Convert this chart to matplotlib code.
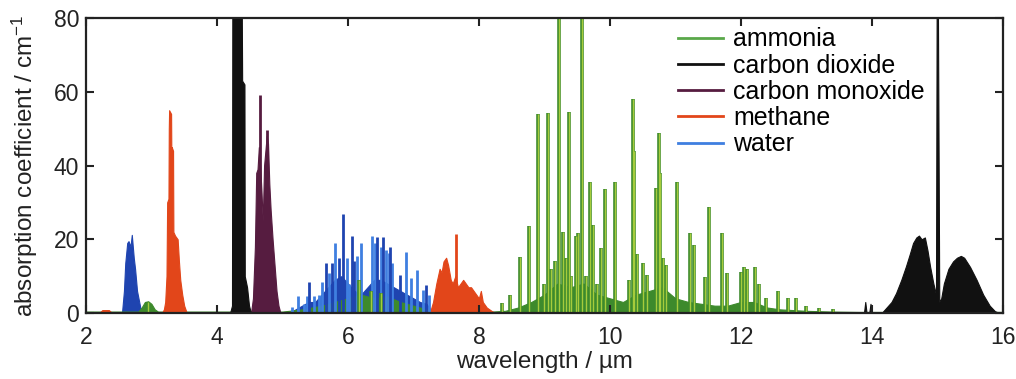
"""Spectre d'absorption IR de quelques gaz (reproduction)."""

import matplotlib
matplotlib.use("Agg")
import matplotlib.pyplot as plt
from matplotlib.lines import Line2D

plt.rcParams["font.family"] = ["Liberation Sans", "DejaVu Sans"]
plt.rcParams["mathtext.default"] = "regular"

# Couleurs
VERT = "#5aa84a"
VERT_CLAIR = "#a6cc3c"
VERT_FONCE = "#3d8a2c"
NOIR = "#111111"
VIOLET = "#561c40"
ORANGE = "#e2461a"
BLEU = "#3f7fe0"
BLEU_FONCE = "#1f44b0"
TEXTE = "#222222"

# --- ammoniac : fond + raies
nh3_fond_wl = [2.0, 2.8, 2.85, 2.9, 2.95, 3.0, 3.05, 3.1, 5.0, 5.3, 5.6, 5.8, 6.0, 6.2,
               6.4, 6.6, 6.8, 7.0, 7.2, 7.4, 8.2, 8.4, 8.6, 8.8, 9.0, 9.2, 9.4, 9.6,
               9.8, 10.0, 10.2, 10.4, 10.6, 10.8, 11.0, 11.2, 11.4, 11.6, 11.8, 12.0,
               12.2, 12.4, 12.6, 12.8, 13.0, 13.4, 13.8, 14.0, 16.0]
nh3_fond_val = [0.4, 0.4, 1.5, 3.0, 3.2, 2.5, 1.0, 0.4, 0.4, 1.0, 2.0, 3.0, 4.0, 5.0,
                4.0, 4.5, 3.0, 2.0, 1.0, 0.5, 0.4, 0.6, 1.5, 3.0, 5.0, 8.0, 7.0, 8.0,
                5.0, 4.0, 3.0, 5.0, 6.0, 7.0, 4.0, 3.0, 2.5, 2.0, 2.0, 3.0, 3.0, 1.5,
                1.0, 0.8, 0.6, 0.4, 0.3, 0.3, 0.3]
nh3_raies_wl = [2.95, 6.17, 6.35, 6.50, 8.35, 8.47, 8.63, 8.77, 8.91, 9.00, 9.05, 9.10,
                9.16, 9.22, 9.29, 9.33, 9.37, 9.41, 9.48, 9.52, 9.57, 9.63, 9.69, 9.74,
                9.80, 9.87, 9.92, 10.08, 10.29, 10.35, 10.37, 10.41, 10.51, 10.56,
                10.71, 10.75, 10.77, 10.81, 10.86, 11.03, 11.22, 11.29, 11.46, 11.51,
                11.71, 11.79, 12.00, 12.05, 12.10, 12.22, 12.28, 12.38, 12.57, 12.72,
                12.84, 13.00, 13.20, 13.40]
nh3_raies_val = [3.0, 9.0, 6.0, 5.5, 2.7, 4.9, 15.3, 23.6, 54.0, 8.0, 54.3, 12.0,
                 14.0, 80.0, 22.0, 15.0, 54.6, 10.0, 21.0, 21.7, 80.0, 10.0, 35.6, 23.9,
                 8.0, 17.6, 33.6, 35.6, 8.9, 58.0, 44.0, 16.0, 13.5, 10.3,
                 34.0, 48.7, 38.0, 15.0, 13.0, 35.6, 21.7, 18.4, 9.9, 28.7,
                 21.8, 10.8, 11.0, 12.5, 12.0, 12.6, 8.0, 4.0, 6.0, 4.0,
                 4.0, 2.0, 1.5, 1.0]

# --- dioxyde de carbone
co2_wl = [4.20, 4.23, 4.235, 4.38, 4.385, 4.42, 4.425, 4.46, 4.49, 4.52,
          13.88, 13.90, 13.92, 13.96, 13.98, 14.00, 14.15, 14.20, 14.30, 14.37,
          14.45, 14.52, 14.58, 14.63, 14.68, 14.72, 14.76, 14.81, 14.85, 14.89,
          14.94, 14.98, 14.99, 15.01, 15.03, 15.06, 15.10, 15.17, 15.24, 15.30,
          15.36, 15.41, 15.50, 15.60, 15.70, 15.80, 15.88, 15.95]
co2_val = [0.0, 2.0, 80.0, 80.0, 63.0, 62.0, 10.0, 7.0, 2.0, 0.0,
           0.0, 3.0, 0.0, 0.0, 2.5, 0.0, 0.0, 1.0, 3.0, 5.4,
           9.0, 12.6, 16.0, 19.0, 20.5, 21.0, 20.0, 20.5, 17.0, 12.6,
           8.0, 5.0, 80.0, 80.0, 3.0, 4.0, 8.0, 12.0, 14.0, 15.0,
           15.5, 15.0, 12.5, 9.0, 5.0, 2.0, 0.5, 0.0]

# --- monoxyde de carbone
co_wl = [4.52, 4.55, 4.58, 4.60, 4.62, 4.64, 4.66, 4.68, 4.70, 4.72,
         4.74, 4.76, 4.78, 4.80, 4.82, 4.85, 4.88, 4.91, 4.94, 4.97]
co_val = [0.0, 4.0, 18.0, 38.0, 39.0, 45.0, 40.0, 33.0, 25.0, 40.0,
          44.0, 48.0, 46.0, 35.0, 28.0, 20.0, 13.0, 6.0, 2.0, 0.0]
co_raies_wl = [4.66, 4.77]
co_raies_val = [59.0, 49.5]

# --- méthane
ch4_wl = [2.20, 2.25, 2.35, 2.40, 3.16, 3.19, 3.21, 3.23, 3.24, 3.26, 3.265, 3.27,
          3.30, 3.305, 3.31, 3.33, 3.335, 3.36, 3.40, 3.42, 3.44, 3.47, 3.50, 3.54,
          7.25, 7.30, 7.35, 7.40, 7.43, 7.46, 7.50, 7.53, 7.57, 7.60, 7.64, 7.68,
          7.72, 7.76, 7.80, 7.84, 7.88, 7.92, 7.96, 8.00, 8.03, 8.06, 8.12, 8.20, 8.26]
ch4_val = [0.0, 0.8, 0.8, 0.0, 0.0, 1.0, 3.0, 10.0, 30.0, 31.0, 50.0, 55.0,
           54.0, 40.0, 45.0, 44.0, 22.0, 21.0, 20.0, 14.0, 9.0, 5.0, 2.0, 0.0,
           0.0, 3.0, 8.0, 12.0, 11.0, 14.0, 15.0, 13.0, 9.0, 8.0, 10.0, 7.0,
           8.0, 9.0, 8.0, 7.0, 7.0, 6.0, 5.0, 4.0, 6.0, 3.0, 1.5, 0.5, 0.0]
ch4_raies_wl = [7.65]
ch4_raies_val = [21.5]

# --- eau
h2o_wl = [2.55, 2.58, 2.60, 2.63, 2.65, 2.68, 2.70, 2.73, 2.75, 2.78, 2.83, 2.86,
          5.10, 5.20, 5.30, 5.40, 5.50, 5.60, 5.70, 5.80, 5.90, 6.00, 6.10, 6.20,
          6.30, 6.40, 6.50, 6.60, 6.70, 6.80, 6.90, 7.00, 7.10, 7.20, 7.30]
h2o_val = [0.0, 6.0, 13.5, 19.0, 19.5, 18.0, 21.2, 15.0, 12.0, 6.0, 1.5, 0.0,
           0.0, 1.0, 2.0, 3.0, 3.0, 5.0, 7.0, 9.0, 10.0, 8.0, 6.0, 5.0,
           7.0, 9.0, 9.0, 8.0, 7.0, 6.0, 5.0, 4.0, 3.0, 2.5, 0.0]
h2o_raies_fonce_wl = [5.41, 5.66, 5.75, 5.87, 5.92, 6.06, 6.09, 6.45, 6.54, 6.64, 6.79, 7.20]
h2o_raies_fonce_val = [8.5, 13.5, 13.7, 14.9, 26.8, 20.9, 14.0, 20.6, 20.5, 17.8, 10.2, 7.6]
h2o_raies_clair_wl = [5.15, 5.24, 5.33, 5.38, 5.48, 5.56, 5.61, 5.71, 5.81, 5.98, 6.02,
                      6.14, 6.20, 6.37, 6.41, 6.50, 6.58, 6.62, 6.68, 6.88, 6.96, 7.05,
                      7.14, 7.24]
h2o_raies_clair_val = [1.7, 4.6, 2.5, 4.6, 4.6, 5.0, 8.5, 10.9, 19.1, 14.9, 8.0,
                       15.6, 19.1, 20.9, 19.0, 18.0, 17.0, 16.4, 13.5, 16.6, 9.6, 11.6,
                       6.2, 5.0]

noms = ["ammonia", "carbon dioxide", "carbon monoxide", "methane", "water"]
couleurs_legende = [VERT, NOIR, VIOLET, ORANGE, BLEU]


fig = plt.figure(figsize=(10.16, 3.79), dpi=100)
ax = fig.add_axes([0.0846, 0.174, 0.9024, 0.7785])

# remplissages
ax.fill_between(h2o_wl, h2o_val, color=BLEU_FONCE, lw=0.8)
ax.fill_between(nh3_fond_wl, nh3_fond_val, color=VERT_FONCE, lw=0.8)
ax.fill_between(ch4_wl, ch4_val, color=ORANGE, lw=0.8)
ax.fill_between(co_wl, co_val, color=VIOLET, lw=0.8)
ax.fill_between(co2_wl, co2_val, color=NOIR, lw=0.8)

# raies
ax.vlines(h2o_raies_clair_wl, 0, h2o_raies_clair_val, colors=BLEU, lw=2.0)
ax.vlines(h2o_raies_fonce_wl, 0, h2o_raies_fonce_val, colors=BLEU_FONCE, lw=2.0)
ax.vlines(nh3_raies_wl, 0, nh3_raies_val, colors=VERT_FONCE, lw=2.6)
ax.vlines(nh3_raies_wl, 0, nh3_raies_val, colors=VERT_CLAIR, lw=1.0)
ax.vlines(ch4_raies_wl, 0, ch4_raies_val, colors=ORANGE, lw=2.0)
ax.vlines(co_raies_wl, 0, co_raies_val, colors=VIOLET, lw=2.0)

ax.set_xlim(2, 16)
ax.set_ylim(0, 80)
ax.set_xticks(range(2, 17, 2))
ax.set_yticks(range(0, 81, 20))
ax.tick_params(direction="in", length=6, width=1.5, top=True, right=True,
               labelsize=16.5, colors=TEXTE)
ax.tick_params(axis="x", pad=9)
ax.tick_params(axis="y", pad=5)
for spine in ax.spines.values():
    spine.set_linewidth(1.6)
    spine.set_color(TEXTE)

ax.set_xlabel("wavelength / µm", fontsize=17.5, color=TEXTE, labelpad=2)
ax.set_ylabel("absorption coefficient / cm$^{-1}$", fontsize=17.5, color=TEXTE,
              labelpad=10)

poignees = [Line2D([], [], color=c, lw=2) for c in couleurs_legende]
ax.legend(poignees, noms, loc="upper left", bbox_to_anchor=(0.6456, 0.968), frameon=False,
          fontsize=18, labelspacing=0.09, handlelength=1.8, handletextpad=0.4,
          borderpad=0, borderaxespad=0)

fig.savefig("out.png", dpi=100)
